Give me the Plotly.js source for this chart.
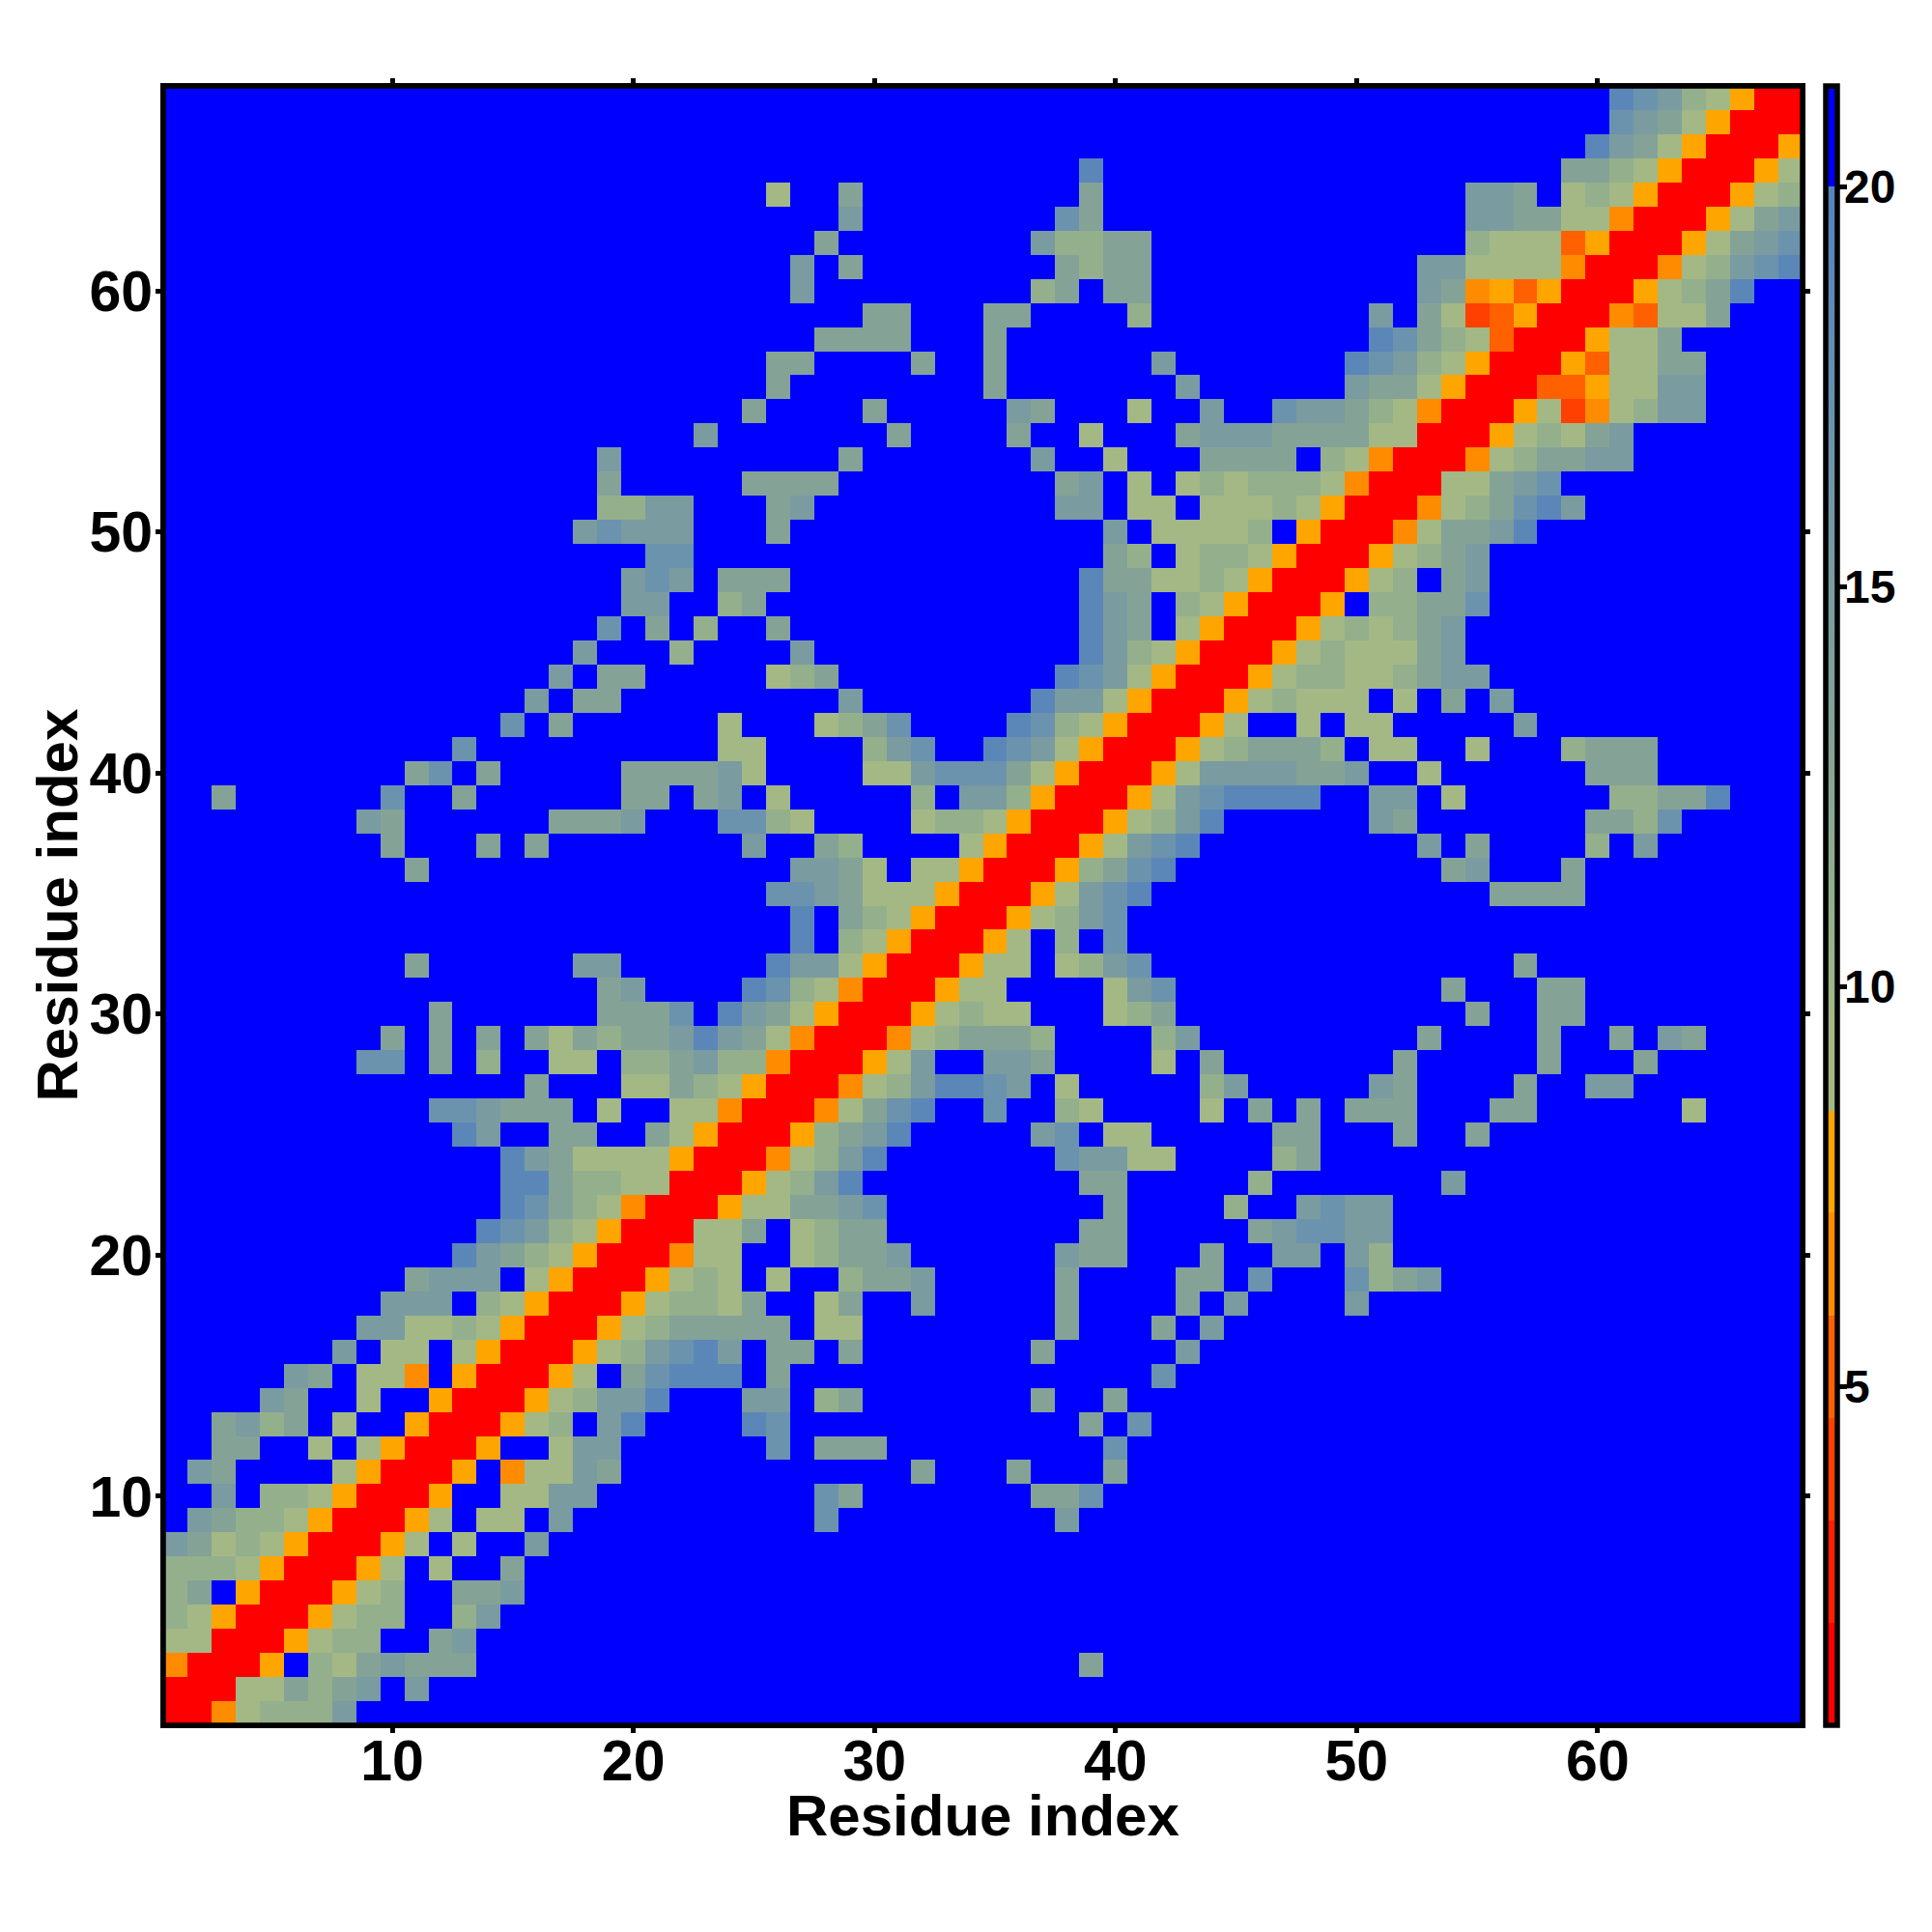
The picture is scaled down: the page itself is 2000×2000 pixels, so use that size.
<!DOCTYPE html>
<html>
<head>
<meta charset="utf-8">
<script src="https://cdn.plot.ly/plotly-3.0.1.min.js"></script>
<style>html,body{margin:0;padding:0;background:#fff}</style>
</head>
<body>
<div id="chart" style="width:2000px;height:2000px"></div>
<script>
// Distance read for each colour band of the map
const levelValues = {R:1.5, q:4, p:5.2, o:6.5, O:7.8, a:9.5, b:11, c:13, d:15, e:17, f:19, B:21};
const residues = Array.from({length:68}, (_, i) => i + 1);
const tickNumbers = [10,20,30,40,50,60];
const barTicks = [5,10,15,20];
const axisLabel = 'Residue index';

// The map is symmetric: [row, first column, codes] for column >= row; unlisted cells are beyond the cutoff (B)
const cellRuns = [
[1,1,"RRoabbbd"],
[2,2,"RRaacbcdBd"],
[3,3,"RROBbacdccc"],[3,39,"c"],
[4,4,"RROabbBBcd"],
[5,5,"RROabbBBbd"],
[6,6,"RROabBBccd"],
[7,7,"RROaBaBBc"],
[8,8,"RROaBaBBd"],
[9,9,"RROaBaaBd"],[9,28,"e"],[9,38,"d"],
[10,10,"RROBBaadd"],[10,28,"ec"],[10,37,"cce"],
[11,11,"RROBoaadc"],[11,32,"c"],[11,36,"c"],[11,40,"c"],
[12,12,"RROBBadd"],[12,26,"e"],[12,28,"ccc"],[12,40,"e"],
[13,13,"RROabBdf"],[13,25,"fe"],[13,39,"c"],[13,41,"e"],
[14,14,"RROabddf"],[14,25,"dd"],[14,28,"bc"],[14,37,"c"],[14,40,"c"],
[15,15,"RROaBcefff"],[15,26,"c"],[15,42,"e"],
[16,16,"RROabdefdBccBc"],[16,37,"c"],[16,43,"d"],
[17,17,"RROabcccccBaa"],[17,38,"c"],[17,42,"c"],[17,44,"d"],
[18,18,"RROabbacBBac"],[18,32,"d"],[18,38,"c"],[18,43,"c"],[18,45,"d"],[18,50,"d"],
[19,19,"RROabaBaBBbccd"],[19,38,"c"],[19,43,"cc"],[19,46,"e"],[19,50,"ebcd"],
[20,20,"RRoaaBBabccd"],[20,38,"dcc"],[20,44,"c"],[20,47,"dd"],[20,50,"db"],
[21,21,"RRaacBabcc"],[21,39,"cc"],[21,46,"cdeedd"],
[22,22,"RROaaccde"],[22,40,"c"],[22,45,"b"],[22,48,"dedd"],
[23,23,"RROabdf"],[23,39,"cc"],[23,46,"b"],[23,54,"d"],
[24,24,"RRoabdf"],[24,38,"eddaa"],[24,47,"bc"],
[25,25,"RRObcdf"],[25,37,"deBaa"],[25,47,"cc"],[25,52,"c"],[25,55,"c"],
[26,26,"RRoacef"],[26,35,"e"],[26,38,"ba"],[26,44,"a"],[26,46,"cBc"],[26,50,"ccc"],[26,56,"cc"],[26,64,"a"],
[27,27,"RRoabdffedBa"],[27,44,"bd"],[27,51,"dc"],[27,57,"c"],[27,60,"dd"],
[28,28,"RROadBBddc"],[28,42,"a"],[28,44,"c"],[28,52,"c"],[28,58,"c"],[28,62,"c"],
[29,29,"RRoabcccb"],[29,42,"bd"],[29,53,"c"],[29,58,"c"],[29,61,"c"],[29,63,"dc"],
[30,30,"RROabaa"],[30,40,"abc"],[30,55,"c"],[30,58,"cc"],
[31,31,"RROaa"],[31,40,"ade"],[31,54,"c"],[31,58,"cc"],
[32,32,"RROaaBabde"],[32,57,"c"],
[33,33,"RROaBbBe"],
[34,34,"RROabde"],
[35,35,"RROadef"],[35,56,"cccc"],
[36,36,"RRObcef"],[36,54,"cd"],[36,59,"c"],
[37,37,"RROadef"],[37,53,"d"],[37,55,"c"],[37,60,"b"],[37,62,"d"],
[38,38,"RROabdf"],[38,51,"dc"],[38,60,"ccbe"],
[39,39,"RROadeffff"],[39,51,"dd"],[39,54,"a"],[39,61,"bbccf"],
[40,40,"RROaddddccd"],[40,53,"a"],[40,60,"ccc"],
[41,41,"RROabcccbBaa"],[41,55,"a"],[41,59,"bccc"],
[42,42,"RROaBBaBaa"],[42,57,"d"],
[43,43,"RROabaaaBaBcBd"],
[44,44,"RROabbaabcdd"],
[45,45,"RROabaaacd"],
[46,46,"RROababcd"],
[47,47,"RROBbbcce"],
[48,48,"RROabBcd"],
[49,49,"RROabcd"],
[50,50,"RRoaccdf"],
[51,51,"RRoabcefd"],
[52,52,"RRaacde"],
[53,53,"RRoabccdd"],
[54,54,"RROabacd"],
[55,55,"RROaqoabdd"],
[56,56,"RRppOaadd"],
[57,57,"RROpaacc"],
[58,58,"RROaac"],
[59,59,"RRopaac"],
[60,60,"RROabcf"],
[61,61,"RRoabdef"],
[62,62,"RROacde"],
[63,63,"RROacd"],
[64,64,"RROab"],
[65,65,"RROa"],
[66,66,"RRO"],
[67,67,"RR"],
[68,68,"R"]
];

// Colour bar: value limits, hard steps, then the grey-green ramp, then blue above 20
const barMin = 0.76, barMax = 21.26;
const stepEdges = [2.04,3.32,4.60,5.88,7.17,8.44];
const stepColors = ["#ff0000","#ff2000","#ff4000","#ff6000","#ff8c00","#ffa500"];
const rampValues = [8.44,9.5,11,13,15,17,19,20];
const rampColors = ["#a3b885","#a3b885","#94af8c","#84a396","#7a9ba0","#6b93ad","#5b87b8","#5583bc"];
const topColor = "#0000ff";

const z = residues.map(() => residues.map(() => levelValues.B));
cellRuns.forEach(([row, col, codes]) => {
  [...codes].forEach((code, i) => {
    const c = col + i;
    z[row-1][c-1] = levelValues[code];
    z[c-1][row-1] = levelValues[code];
  });
});

const norm = v => (v - barMin) / (barMax - barMin);
const colorscale = [];
let prevEdge = barMin;
stepEdges.forEach((edge, i) => {
  colorscale.push([norm(prevEdge), stepColors[i]]);
  colorscale.push([norm(edge), stepColors[i]]);
  prevEdge = edge;
});
rampValues.forEach((v, i) => colorscale.push([norm(v), rampColors[i]]));
colorscale.push([norm(20), topColor]);
colorscale.push([1, topColor]);

const family = '"Liberation Sans", Arial, sans-serif';

const plotLeft = 169.3, plotRight = 1866, plotTop = 89.4, plotBottom = 1786;
const plotW = plotRight - plotLeft, plotH = plotBottom - plotTop;

const axisBase = {
  range: [0.5, 68.5],
  tickmode: 'array',
  tickvals: tickNumbers,
  ticktext: tickNumbers.map(String),
  ticks: 'outside',
  ticklen: 5,
  tickwidth: 5,
  tickcolor: '#000',
  showline: true,
  linecolor: '#000',
  linewidth: 3,
  mirror: 'ticks',
  showgrid: false,
  zeroline: false,
  tickfont: {family, size: 59, weight: 700, color: '#000'}
};

const titleFont = {family, size: 60, weight: 700, color: '#000'};

Plotly.newPlot('chart', [{
  type: 'heatmap',
  x: residues,
  y: residues,
  z: z,
  zmin: barMin,
  zmax: barMax,
  zsmooth: false,
  colorscale: colorscale,
  colorbar: {
    thicknessmode: 'pixels',
    thickness: 12,
    lenmode: 'fraction',
    len: 1,
    x: (1889.5 - plotLeft) / plotW,
    xanchor: 'left',
    xpad: 0,
    y: 0,
    yanchor: 'bottom',
    ypad: 0,
    outlinewidth: 5.5,
    outlinecolor: '#000',
    borderwidth: 0,
    tickmode: 'array',
    tickvals: barTicks,
    showticklabels: false,
    ticks: 'outside',
    ticklen: 8,
    tickwidth: 5,
    tickcolor: '#000'
  }
}], {
  width: 2000,
  height: 2000,
  paper_bgcolor: '#fff',
  plot_bgcolor: '#0000ff',
  margin: {l: plotLeft, r: 2000 - plotRight, t: plotTop, b: 2000 - plotBottom, pad: 0},
  showlegend: false,
  xaxis: Object.assign({}, axisBase, {ticklabelstandoff: -22}),
  yaxis: Object.assign({}, axisBase, {ticklabelstandoff: -9}),
  annotations: barTicks.map(v => ({
    text: String(v),
    xref: 'paper', yref: 'paper',
    x: (1907 - plotLeft) / plotW,
    y: norm(v),
    xanchor: 'left', yanchor: 'middle',
    showarrow: false,
    font: {family, size: 48, weight: 700, color: '#000'}
  })).concat([
    {
      text: axisLabel, showarrow: false, font: titleFont,
      xref: 'paper', yref: 'paper',
      x: (1018 - plotLeft) / plotW, y: (plotBottom - 1879) / plotH,
      xanchor: 'center', yanchor: 'middle'
    },
    {
      text: axisLabel, showarrow: false, font: titleFont, textangle: -90,
      xref: 'paper', yref: 'paper',
      x: (60 - plotLeft) / plotW, y: (plotBottom - 937) / plotH,
      xanchor: 'center', yanchor: 'middle'
    }
  ]),
  shapes: [{
    type: 'rect', xref: 'paper', yref: 'paper', x0: 0, x1: 1, y0: 0, y1: 1,
    line: {color: '#000', width: 5.5}, layer: 'above'
  }]
}, {displayModeBar: false, staticPlot: true});
</script>
</body>
</html>
